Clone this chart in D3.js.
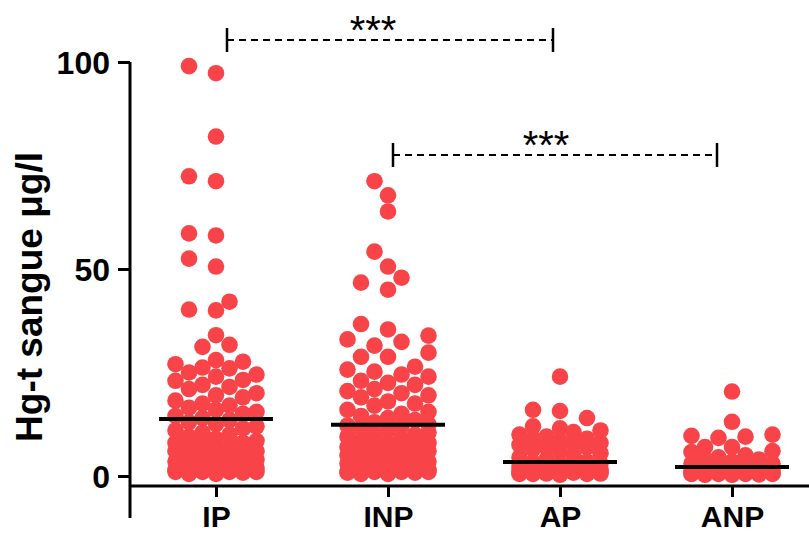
<!DOCTYPE html>
<html>
<head>
<meta charset="utf-8">
<script src="https://cdn.jsdelivr.net/npm/d3@7"></script>
<style>
  html, body { margin: 0; padding: 0; background: #fff; }
  svg { display: block; font-family: "Liberation Sans", Arial, sans-serif; }
</style>
</head>
<body>
<svg id="chart" width="809" height="534"></svg>
<script>
// ---- data ----
const categories = ["IP", "INP", "AP", "ANP"];
const ipValues = [99, 97.3, 82, 72.4, 71.2, 58.6, 58.1, 52.5, 50.6, 42.1, 40.2, 40, 34, 31.7, 31.2,
  28, 27.6, 27, 26.2, 26, 25, 24.5, 24, 23.2, 23, 22, 21.5, 21, 20, 19.5, 19, 18.2, 17.5, 17,
  16.5, 16, 15.5, 15, 14.5, 14,
  13.5, 13, 12.5, 12, 11.5, 11, 10.5, 10, 9.5, 9, 8.5, 8, 8, 7.5, 7, 7, 6.5, 6, 6, 5.5, 5, 5,
  4.5, 4, 4, 3.5, 3, 3, 2.5, 2, 2, 2, 1.5, 1, 1, 1, 1, 0.8, 0.5, 0.5];
const inpValues = [71.2, 67.8, 63.9, 54.2, 50.6, 47.9, 46.7, 45, 36.7, 35.4, 33.9, 33, 32.4, 31.5,
  29.8, 28.8, 28.8, 26.4, 25.7, 25.2,
  24.5, 24, 23, 22.5, 22, 21, 20.5, 20, 19.5, 19, 18, 17.5, 17, 16,
  15.5, 15, 14.5, 14, 13.5, 13, 12.5,
  12.2, 12, 11.5, 11, 10.5, 10, 10, 9.5, 9, 8.5, 8, 8, 7.5, 7, 7, 6.5, 6, 6, 5.5, 5, 5, 4.5, 4, 4,
  3.5, 3, 3, 2.5, 2, 2, 2, 1.5, 1.5, 1, 1, 1, 1, 0.8, 0.8, 0.5, 0.5];
const apValues = [24, 16, 15.7, 14, 12, 11.5, 11, 10.6, 10, 9.5, 9, 9, 8.5, 8, 8, 7.5, 7, 7, 6.5, 6,
  5.5, 5, 4.5, 4, 3.5,
  3.3, 3, 3, 2.5, 2.5, 2, 2, 2, 1.5, 1.5, 1.5, 1.2, 1.2, 1, 1, 1, 1, 0.8, 0.8, 0.6, 0.6,
  0.5, 0.5, 0.5, 0.3];
const anpValues = [20.4, 13.1, 10, 9.7, 9.5, 9.2, 7, 7, 6, 5.8, 5, 4.5, 4, 4, 3.5, 3, 3, 2.5, 2.3,
  2.1, 2, 1.5, 1.5, 1.2, 1, 1, 1, 0.8, 0.8, 0.7, 0.6, 0.5, 0.5, 0.5, 0.5, 0.4, 0.3, 0.3];
const seriesValues = [ipValues, inpValues, apValues, anpValues];
const yTickValues = [0, 50, 100];
const yTitle = "Hg-t sangue μg/l";
const compFrom = ["IP", "INP"];
const compTo = ["AP", "ANP"];
const compLabels = ["***", "***"];
const compLevels = [105.3, 77.5];

// ---- layout ----
const svg = d3.select("#chart");
const red = "#f84448";
const font = '"Liberation Sans", Arial, sans-serif';
const y = d3.scaleLinear().domain([0, 100]).range([476, 62]);
const x = d3.scalePoint().domain(categories).range([216, 732]);
const axisY = 486;
const R = 8.3;

// y axis
const gy = svg.append("g").attr("transform", "translate(130,0)")
  .call(d3.axisLeft(y).tickValues(yTickValues).tickSize(12).tickPadding(8).tickSizeOuter(0));
gy.select(".domain").attr("d", "M0,62V518").attr("stroke", "#000").attr("stroke-width", 3);
gy.selectAll(".tick line").attr("stroke", "#000").attr("stroke-width", 3);
gy.selectAll(".tick text").attr("font-family", font).attr("font-weight", "bold")
  .attr("font-size", 32).attr("fill", "#000").attr("dy", "0.35em");

// x axis
const gx = svg.append("g").attr("transform", `translate(0,${axisY})`)
  .call(d3.axisBottom(x).tickSize(11).tickPadding(10).tickSizeOuter(0));
gx.select(".domain").attr("d", "M130,0H809").attr("stroke", "#000").attr("stroke-width", 3);
gx.selectAll(".tick line").attr("stroke", "#000").attr("stroke-width", 3);
gx.selectAll(".tick text").attr("font-family", font).attr("font-weight", "bold")
  .attr("font-size", 30).attr("fill", "#000").attr("y", 41).attr("dy", null);

// y title
svg.append("text")
  .attr("transform", `translate(42,${(147 + 447) / 2}) rotate(-90)`)
  .attr("text-anchor", "middle")
  .attr("font-family", font).attr("font-weight", "bold").attr("font-size", 37)
  .attr("fill", "#000")
  .text(yTitle);

// swarm layout
const step = 13.5, D = 16;
const order = [0, -1, 1, -2, 2, -3, 3];
function swarm(values, cx) {
  const placed = [];
  const sorted = values.slice().sort((a, b) => a - b);
  sorted.forEach(v => {
    const py = y(v);
    let best = null, bestScore = Infinity;
    for (const k of order) {
      const px = cx + k * step;
      let score = 0;
      for (const p of placed) {
        const d = Math.hypot(p.x - px, p.y - py);
        if (d < D) score += (D - d);
      }
      if (score < bestScore - 1e-9) { bestScore = score; best = px; }
      if (score === 0) break;
    }
    placed.push({ x: best, y: py, v });
  });
  return placed;
}

const dotsG = svg.append("g");
categories.forEach((c, i) => {
  const pts = swarm(seriesValues[i], x(c));
  dotsG.selectAll(null).data(pts).enter().append("circle")
    .attr("cx", d => d.x).attr("cy", d => d.y).attr("r", R).attr("fill", red);
});

// median lines
const medG = svg.append("g");
categories.forEach((c, i) => {
  const m = d3.median(seriesValues[i]);
  medG.append("line")
    .attr("x1", x(c) - 57).attr("x2", x(c) + 57)
    .attr("y1", y(m)).attr("y2", y(m))
    .attr("stroke", "#000").attr("stroke-width", 4);
});

// significance brackets
const startOff = [11, 5], endOff = [-7, -15], starOff = [-17, -9];
compFrom.forEach((f, i) => {
  const x1 = x(f) + startOff[i], x2 = x(compTo[i]) + endOff[i];
  const yy = Math.round(y(compLevels[i]));
  const g = svg.append("g");
  g.append("line").attr("x1", x1).attr("x2", x2).attr("y1", yy).attr("y2", yy)
    .attr("stroke", "#000").attr("stroke-width", 2).attr("stroke-dasharray", "7,5");
  [x1, x2].forEach(xx => g.append("line").attr("x1", xx).attr("x2", xx)
    .attr("y1", yy - 12).attr("y2", yy + 12).attr("stroke", "#000").attr("stroke-width", 2.5));
  g.append("text").attr("x", (x1 + x2) / 2 + starOff[i]).attr("y", yy + 4)
    .attr("text-anchor", "middle").attr("font-family", font).attr("font-weight", "normal")
    .attr("font-size", 40).attr("fill", "#000").text(compLabels[i]);
});
</script>
</body>
</html>
